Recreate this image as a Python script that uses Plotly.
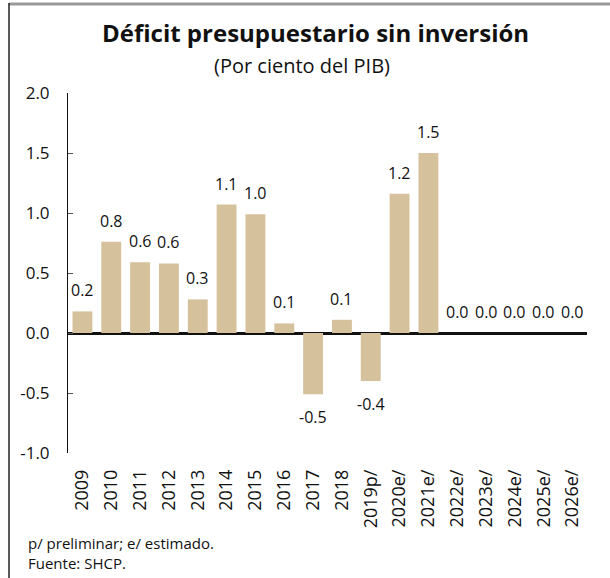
import plotly.graph_objects as go

# Budget deficit excluding investment, % of GDP
years = ["2009", "2010", "2011", "2012", "2013", "2014", "2015", "2016", "2017",
         "2018", "2019p/", "2020e/", "2021e/", "2022e/", "2023e/", "2024e/",
         "2025e/", "2026e/"]
deficit = [0.18, 0.76, 0.59, 0.58, 0.28, 1.07, 0.99, 0.08, -0.51,
           0.11, -0.40, 1.16, 1.50, 0.0, 0.0, 0.0, 0.0, 0.0]

y_ticks = [-1.0, -0.5, 0.0, 0.5, 1.0, 1.5, 2.0]

FONT = "Open Sans"
BAR = "#D5C29D"

L, R, T, B = 68, 23, 93, 125
W, H = 610, 578
pw, ph = W - L - R, H - T - B


def px(x):
    return (x - L) / pw


def py(y):
    return (H - B - y) / ph


fig = go.Figure()
fig.add_trace(go.Bar(
    x=years, y=deficit,
    marker=dict(color=BAR, line=dict(width=0)),
    width=0.69,
    hoverinfo="x+y",
))

# value labels: above positive bars, below negative ones (x as category index)
annotations = []
for i, v in enumerate(deficit):
    annotations.append(dict(
        x=i, y=v, xref="x", yref="y",
        text=f"{v:.1f}", showarrow=False,
        yshift=21 if v >= 0 else -23,
        font=dict(family=FONT, size=16, color="#111"),
    ))

# title, subtitle and notes
annotations += [
    dict(x=px(315), y=py(33), xref="paper", yref="paper", yanchor="middle",
         text="<b>Déficit presupuestario sin inversión</b>", showarrow=False,
         font=dict(family=FONT, size=24, color="#111")),
    dict(x=px(302), y=py(65), xref="paper", yref="paper", yanchor="middle",
         text="(Por ciento del PIB)", showarrow=False,
         font=dict(family=FONT, size=20, color="#111")),
    dict(x=px(26), y=py(543), xref="paper", yref="paper", yanchor="middle", xanchor="left",
         text="p/ preliminar; e/ estimado.", showarrow=False,
         font=dict(family=FONT, size=15, color="#111")),
    dict(x=px(26), y=py(563), xref="paper", yref="paper", yanchor="middle", xanchor="left",
         text="Fuente: SHCP.", showarrow=False,
         font=dict(family=FONT, size=15, color="#111")),
]

shapes = [
    dict(type="line", xref="paper", yref="paper", x0=px(9), x1=px(610), y0=py(4), y1=py(4),
         line=dict(color="#999", width=3)),
    dict(type="line", xref="paper", yref="paper", x0=px(9), x1=px(9), y0=py(3), y1=py(580),
         line=dict(color="#222", width=1.5)),
]

fig.update_layout(
    width=W, height=H,
    margin=dict(l=L, r=R, t=T, b=B),
    paper_bgcolor="white", plot_bgcolor="white",
    showlegend=False,
    annotations=annotations,
    shapes=shapes,
    xaxis=dict(
        type="category", range=[-0.5, len(years) - 0.5], tickangle=-90,
        showgrid=False, showline=False, ticks="",
        tickfont=dict(family=FONT, size=18, color="#111"),
        ticklabelstandoff=12,
    ),
    yaxis=dict(
        range=[-1.0, 2.0], tickvals=y_ticks, ticktext=[f"{t:.1f}" for t in y_ticks],
        showgrid=False, showline=True, linecolor="#111", linewidth=1,
        ticks="inside", ticklen=5, tickcolor="#555",
        zeroline=True, zerolinecolor="#111", zerolinewidth=2.5,
        tickfont=dict(family=FONT, size=17, color="#111"),
        ticklabelstandoff=14,
    ),
)

fig.write_html("out.html")
